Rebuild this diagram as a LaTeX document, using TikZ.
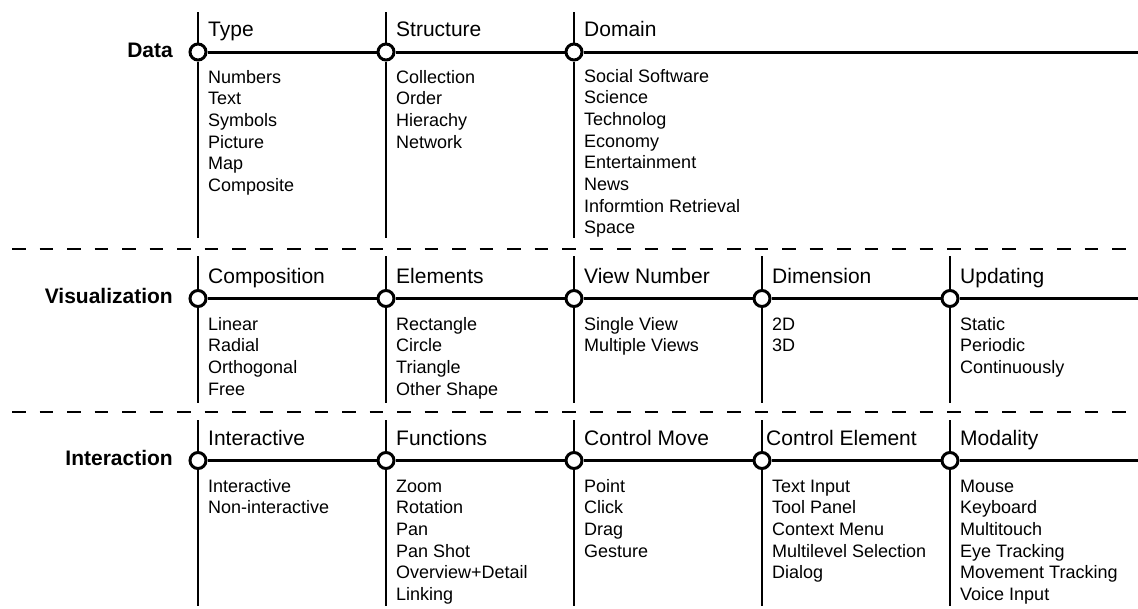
\documentclass[tikz,border=0pt]{standalone}
\usepackage{fontspec}
\setmainfont{Liberation Sans}
\begin{document}
\begin{tikzpicture}[x=1pt,y=-1pt,
  axis/.style={line width=3pt},
  tick/.style={line width=1.5pt},
  sep/.style={line width=2pt, dash pattern=on 13.5pt off 14pt},
  dot/.style={circle, draw, line width=3pt, fill=white, minimum size=16pt, inner sep=0pt},
  head/.style={anchor=base west, inner sep=0pt, font=\fontsize{21}{25}\selectfont},
  item/.style={anchor=base west, inner sep=0pt, font=\fontsize{18}{22}\selectfont},
  cat/.style={anchor=base east, inner sep=0pt, font=\bfseries\fontsize{21}{25}\selectfont}]
\useasboundingbox (0,0) rectangle (1138,608);

% ---------- separators ----------
\coordinate (s1L) at (12,248.5);
\coordinate (s1R) at (1138,248.5);
\coordinate (s2L) at (12,411.5);
\coordinate (s2R) at (1138,411.5);
\draw[sep] (s1L) -- (s1R);
\draw[sep] (s2L) -- (s2R);

% ---------- Data row ----------
\node[cat] (dlab) at (173,57) {Data};
\coordinate (dEnd) at (1138,52);
\foreach \n/\x in {1/198,2/386,3/574}{
  \node[dot] (d\n) at (\x,52) {};
  \coordinate (dT\n) at (\x,12);
  \coordinate (dB\n) at (\x,238);
  \draw[tick] (d\n) -- (dT\n);
  \draw[tick] (d\n) -- (dB\n);
}
\draw[axis] (d1) -- (d2);
\draw[axis] (d2) -- (d3);
\draw[axis] (d3) -- (dEnd);
\node[head] (dh1) at (208,36) {Type};
\node[head] (dh2) at (396,36) {Structure};
\node[head] (dh3) at (584,36) {Domain};
\foreach \t [count=\i] in {Numbers,Text,Symbols,Picture,Map,Composite}
  \node[item] (di1-\i) at (208,{83+(\i-1)*21.7}) {\t};
\foreach \t [count=\i] in {Collection,Order,Hierachy,Network}
  \node[item] (di2-\i) at (396,{83+(\i-1)*21.7}) {\t};
\foreach \t [count=\i] in {Social Software,Science,Technolog,Economy,Entertainment,News,Informtion Retrieval,Space}
  \node[item] (di3-\i) at (584,{82+(\i-1)*21.7}) {\t};

% ---------- Visualization row ----------
\node[cat] (vlab) at (173,303) {Visualization};
\coordinate (vEnd) at (1138,298.5);
\foreach \n/\x in {1/198,2/386,3/574,4/762,5/950}{
  \node[dot] (v\n) at (\x,298.5) {};
  \coordinate (vT\n) at (\x,256);
  \coordinate (vB\n) at (\x,403);
  \draw[tick] (v\n) -- (vT\n);
  \draw[tick] (v\n) -- (vB\n);
}
\draw[axis] (v1) -- (v2);
\draw[axis] (v2) -- (v3);
\draw[axis] (v3) -- (v4);
\draw[axis] (v4) -- (v5);
\draw[axis] (v5) -- (vEnd);
\node[head] (vh1) at (208,283) {Composition};
\node[head] (vh2) at (396,283) {Elements};
\node[head] (vh3) at (584,283) {View Number};
\node[head] (vh4) at (772,283) {Dimension};
\node[head] (vh5) at (960,283) {Updating};
\foreach \t [count=\i] in {Linear,Radial,Orthogonal,Free}
  \node[item] (vi1-\i) at (208,{330+(\i-1)*21.7}) {\t};
\foreach \t [count=\i] in {Rectangle,Circle,Triangle,Other Shape}
  \node[item] (vi2-\i) at (396,{330+(\i-1)*21.7}) {\t};
\foreach \t [count=\i] in {Single View,Multiple Views}
  \node[item] (vi3-\i) at (584,{330+(\i-1)*21.7}) {\t};
\foreach \t [count=\i] in {2D,3D}
  \node[item] (vi4-\i) at (772,{330+(\i-1)*21.7}) {\t};
\foreach \t [count=\i] in {Static,Periodic,Continuously}
  \node[item] (vi5-\i) at (960,{330+(\i-1)*21.7}) {\t};

% ---------- Interaction row ----------
\node[cat] (ilab) at (173,465) {Interaction};
\coordinate (iEnd) at (1138,460.5);
\foreach \n/\x in {1/198,2/386,3/574,4/762,5/950}{
  \node[dot] (i\n) at (\x,460.5) {};
  \coordinate (iT\n) at (\x,420);
  \coordinate (iB\n) at (\x,606);
  \draw[tick] (i\n) -- (iT\n);
  \draw[tick] (i\n) -- (iB\n);
}
\draw[axis] (i1) -- (i2);
\draw[axis] (i2) -- (i3);
\draw[axis] (i3) -- (i4);
\draw[axis] (i4) -- (i5);
\draw[axis] (i5) -- (iEnd);
\node[head] (ih1) at (208,445) {Interactive};
\node[head] (ih2) at (396,445) {Functions};
\node[head] (ih3) at (584,445) {Control Move};
\node[head] (ih4) at (766,445) {Control Element};
\node[head] (ih5) at (960,445) {Modality};
\foreach \t [count=\i] in {Interactive,Non-interactive}
  \node[item] (ii1-\i) at (208,{492+(\i-1)*21.7}) {\t};
\foreach \t [count=\i] in {Zoom,Rotation,Pan,Pan Shot,Overview+Detail,Linking}
  \node[item] (ii2-\i) at (396,{492+(\i-1)*21.7}) {\t};
\foreach \t [count=\i] in {Point,Click,Drag,Gesture}
  \node[item] (ii3-\i) at (584,{492+(\i-1)*21.7}) {\t};
\foreach \t [count=\i] in {Text Input,Tool Panel,Context Menu,Multilevel Selection,Dialog}
  \node[item] (ii4-\i) at (772,{492+(\i-1)*21.7}) {\t};
\foreach \t [count=\i] in {Mouse,Keyboard,Multitouch,Eye Tracking,Movement Tracking,Voice Input}
  \node[item] (ii5-\i) at (960,{492+(\i-1)*21.7}) {\t};
\end{tikzpicture}
\end{document}
